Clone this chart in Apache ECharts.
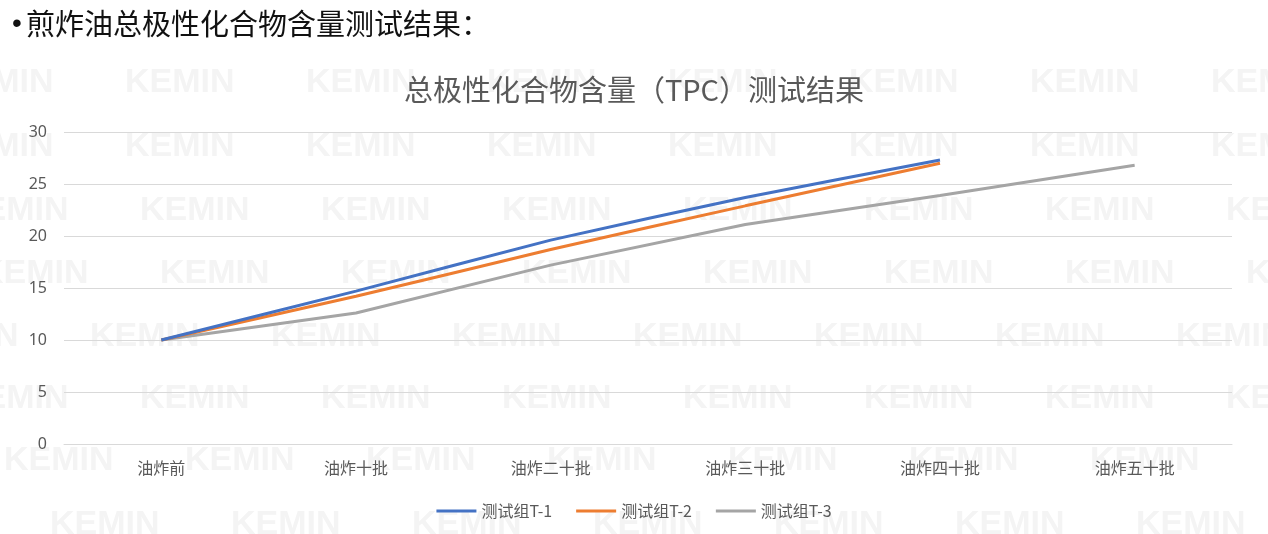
<!DOCTYPE html>
<html>
<head>
<meta charset="utf-8">
<script src="https://cdn.jsdelivr.net/npm/echarts@6/dist/echarts.min.js"></script>
<style>
html,body{margin:0;padding:0;background:#fff;}
#c{width:1268px;height:534px;}
</style>
</head>
<body>
<div id="c"></div>
<script>
var categories = ['油炸前', '油炸十批', '油炸二十批', '油炸三十批', '油炸四十批', '油炸五十批'];
var seriesNames = ['测试组T-1', '测试组T-2', '测试组T-3'];
var t1 = [10, 14.7, 19.6, 23.7, 27.3, null];
var t2 = [10, 14.2, 18.7, 22.9, 27.0, null];
var t3 = [10, 12.6, 17.2, 21.1, 23.9, 26.8];
var yTicks = [0, 5, 10, 15, 20, 25, 30];

var chart = echarts.init(document.getElementById('c'));

var wm = [];
var rows = [
  {y: 66, x0: 125}, {y: 130, x0: 125}, {y: 194, x0: 140}, {y: 257, x0: 160},
  {y: 320, x0: 90}, {y: 382, x0: 140}, {y: 444, x0: 185}, {y: 508, x0: 50}
];
rows.forEach(function (r) {
  for (var x = r.x0 - 181; x < 1268; x += 181) {
    wm.push({
      type: 'text', left: x, top: r.y, z: -10, silent: true,
      style: {text: 'KEMIN', fill: '#f4f4f4', font: 'bold 34px "Liberation Sans", Arial, sans-serif'}
    });
  }
});
wm.push({
  type: 'text', left: 12, top: 10, z: 10,
  style: {text: '•', fill: '#111', font: '28px "Liberation Sans", Arial, sans-serif'}
});
wm.push({
  type: 'text', left: 26, top: 9, z: 10,
  style: {text: '煎炸油总极性化合物含量测试结果：', fill: '#111', font: '29px "Noto Sans CJK SC", sans-serif'}
});

chart.setOption({
  animation: false,
  backgroundColor: '#fff',
  graphic: wm,
  title: {
    text: '总极性化合物含量（TPC）测试结果',
    left: 'center', top: 70,
    textStyle: {color: '#595959', fontSize: 29, fontWeight: 'normal', fontFamily: '"Noto Sans CJK SC", sans-serif'}
  },
  legend: {
    data: seriesNames,
    bottom: 10, left: 'center',
    itemWidth: 40, itemHeight: 3, itemGap: 24,
    icon: 'rect',
    textStyle: {color: '#595959', fontSize: 16, fontFamily: '"Noto Sans CJK SC", sans-serif'}
  },
  grid: {left: 64, right: 36, top: 132, bottom: 90, containLabel: false},
  xAxis: {
    type: 'category', data: categories, boundaryGap: true,
    axisLine: {show: true, lineStyle: {color: '#d9d9d9'}},
    axisTick: {show: false},
    axisLabel: {color: '#595959', fontSize: 16, margin: 16, fontFamily: '"Noto Sans CJK SC", sans-serif'}
  },
  yAxis: {
    type: 'value', min: yTicks[0], max: yTicks[yTicks.length - 1], interval: 5,
    axisLine: {show: false}, axisTick: {show: false},
    axisLabel: {color: '#595959', fontSize: 16, margin: 17, fontFamily: '"Noto Sans", sans-serif'},
    splitLine: {lineStyle: {color: '#d9d9d9', width: 1}}
  },
  series: [
    {name: seriesNames[0], type: 'line', data: t1, showSymbol: false, smooth: 0.15,
     lineStyle: {color: '#4472C4', width: 3}, itemStyle: {color: '#4472C4'}, z: 5},
    {name: seriesNames[1], type: 'line', data: t2, showSymbol: false, smooth: 0.15,
     lineStyle: {color: '#ED7D31', width: 3}, itemStyle: {color: '#ED7D31'}, z: 4},
    {name: seriesNames[2], type: 'line', data: t3, showSymbol: false, smooth: false,
     lineStyle: {color: '#A5A5A5', width: 3}, itemStyle: {color: '#A5A5A5'}, z: 3}
  ]
});
</script>
</body>
</html>
